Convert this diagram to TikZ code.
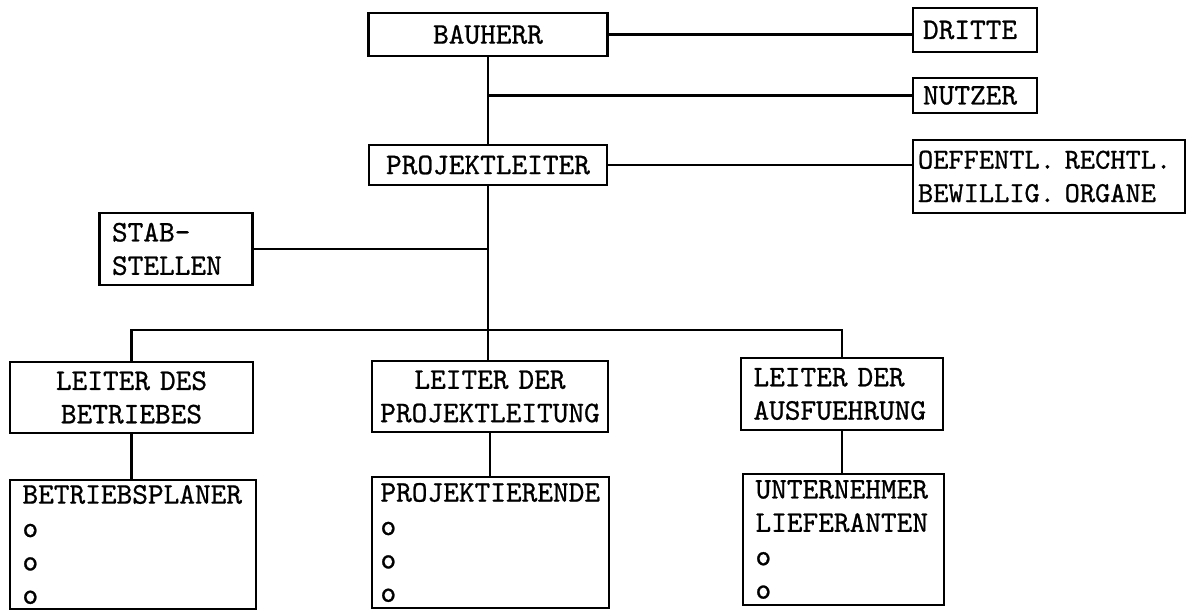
\documentclass[tikz,border=0pt]{standalone}
\usepackage{fontspec}
\usepackage{tikz}
\newfontfamily\schreib{lmmono10-regular.otf}[FakeBold=0.8]
\tikzset{
  box/.style={draw, line width=1.5pt, inner xsep=0.2cm, inner ysep=0pt,
    font=\schreib\fontsize{17}{19}\selectfont},
  boxc/.style={box, align=center},
  boxl/.style={box, align=left},
}

\begin{document}
\begin{tikzpicture}[line width=1.5pt]
			\useasboundingbox (0,0) rectangle (23.76,12.22);
			%%%%% TOP %%%%%
			\node[boxc, text width=4.38cm, minimum height=0.86cm] (bauherr) at (9.76,11.53) {BAUHERR};
			\node[boxl, text width=2.08cm, minimum height=0.88cm] (dritte) at (19.5,11.62) {DRITTE};
			\node[boxl, text width=2.08cm, minimum height=0.70cm] (nutzer) at (19.5,10.31) {NUTZER};
			\node[boxl, text width=5.24cm, inner xsep=0.1cm, minimum height=1.46cm, font=\schreib\fontsize{16.5}{19}\selectfont] (oeff) at (20.98,8.69) {OEFFENTL. RECHTL.\\BEWILLIG. ORGANE};
			\node[boxc, text width=4.36cm, minimum height=0.80cm] (projleiter) at (9.76,8.92) {PROJEKTLEITER};
			\node[boxl, text width=2.56cm, inner xsep=0.25cm, minimum height=1.44cm] (stab) at (3.52,7.24) {STAB-\\STELLEN};
			
			%%%%% LEITER %%%%%
			\node[boxc, text width=4.46cm, minimum height=1.42cm] (lbetrieb) at (2.63,4.27) {LEITER DES\\BETRIEBES};
			\node[boxc, text width=4.4cm, inner xsep=0.16cm, minimum height=1.42cm] (lprojekt) at (9.8,4.29) {LEITER DER\\PROJEKTLEITUNG};
			\node[boxl, text width=3.54cm, inner xsep=0.25cm, minimum height=1.44cm] (lausf) at (16.84,4.34) {LEITER DER\\AUSFUEHRUNG};
			
			%%%%% UNTEN %%%%%
			\node[boxl, text width=4.42cm, inner xsep=0.25cm, minimum height=2.58cm] (bplaner) at (2.66,1.33) {BETRIEBSPLANER\\o\\o\\o};
			\node[boxl, text width=4.4cm, inner xsep=0.17cm, minimum height=2.62cm] (projektierende) at (9.81,1.37) {PROJEKTIERENDE\\o\\o\\o};
			\node[boxl, text width=3.52cm, inner xsep=0.25cm, minimum height=2.62cm] (unternehmer) at (16.87,1.43) {UNTERNEHMER\\LIEFERANTEN\\o\\o};
			
			%%%%% LINIEN %%%%%
			\draw (bauherr.east) -- (bauherr.east -| dritte.west);
			\draw (bauherr) -- (projleiter);
			\draw (nutzer.west) -- (nutzer.west -| bauherr.south);
			\draw (projleiter.east) -- (projleiter.east -| oeff.west);
			\draw (stab.east) -- (stab.east -| projleiter.south);
			\draw (projleiter.south) -- (projleiter.south |- lprojekt.north);
			\coordinate (bus) at (9.76,5.62);
			\draw (lbetrieb.north) |- (bus) -| (lausf.north);
			\draw (lbetrieb.south) -- (lbetrieb.south |- bplaner.north);
			\draw (lprojekt.south) -- (lprojekt.south |- projektierende.north);
			\draw (lausf.south) -- (lausf.south |- unternehmer.north);
\end{tikzpicture}
\end{document}
